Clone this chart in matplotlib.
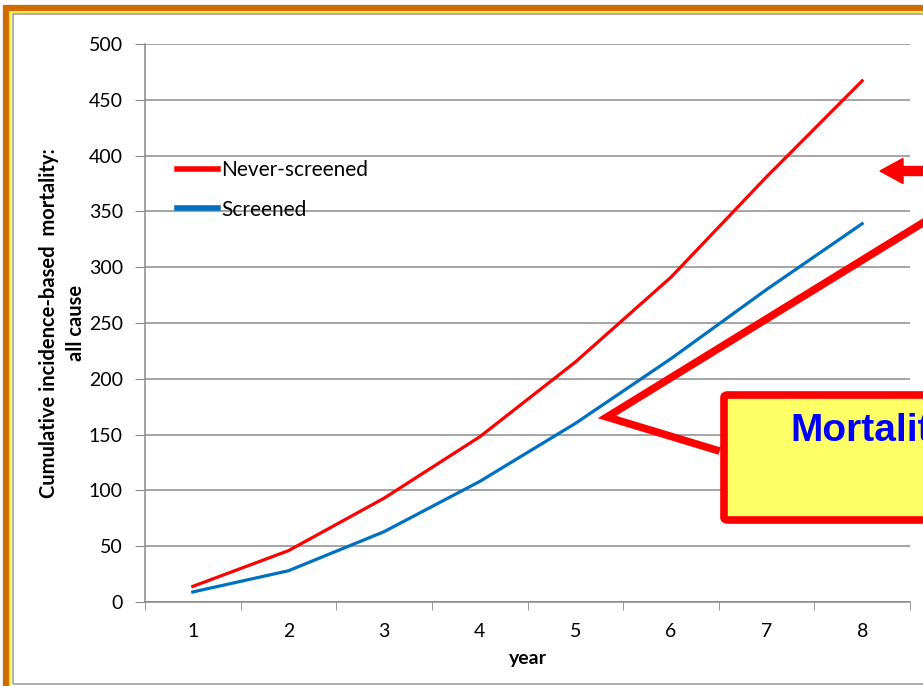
import numpy as np
import matplotlib
matplotlib.use('Agg')
import matplotlib.pyplot as plt
from matplotlib.patches import Rectangle, FancyBboxPatch, FancyArrow
from matplotlib.lines import Line2D

plt.rcParams['font.family'] = ['Lato', 'DejaVu Sans']

years = [1, 2, 3, 4, 5, 6, 7, 8]
never_screened = [14, 46, 93, 148, 215, 291, 381, 467]
screened = [9, 28, 63, 108, 160, 218, 280, 339]

W, H = 923, 686
fig = plt.figure(figsize=(W / 100, H / 100), dpi=100)


def px(x, y):
    # pixel position (from top-left) -> figure fraction
    return x / W, 1 - y / H


ax = fig.add_axes([145 / W, (H - 602) / H, (910 - 145) / W, (602 - 44) / H])
ax.plot(years, never_screened, color='#ff0000', lw=2.3, label='Never-screened', zorder=3)
ax.plot(years, screened, color='#0070c0', lw=2.3, label='Screened', zorder=3)

ax.set_xlim(0.5, 8.5)
ax.set_ylim(0, 500)
ax.set_yticks(np.arange(0, 501, 50))
ax.set_xticks(years)
ax.set_xticks(np.arange(0.5, 8.6, 1), minor=True)
ax.tick_params(axis='x', which='major', length=0, pad=15, labelsize=14)
ax.tick_params(axis='x', which='minor', length=6, color='#898989', direction='out')
ax.tick_params(axis='y', length=7, color='#898989', pad=9, labelsize=14)
ax.grid(axis='y', color='#8c8c8c', lw=1.1)
ax.set_axisbelow(True)
for s in ['top', 'right']:
    ax.spines[s].set_visible(False)
for s in ['left', 'bottom']:
    ax.spines[s].set_color('#898989')
    ax.spines[s].set_linewidth(1.1)

ax.set_xlabel('year', fontsize=14, fontweight='bold', labelpad=7)
ax.set_ylabel('Cumulative incidence-based  mortality:\nall cause', fontsize=14.5,
              fontweight='bold', labelpad=2, linespacing=1.4)

leg = ax.legend(loc='upper left', bbox_to_anchor=(0.017, 0.826), frameon=False,
                fontsize=15, handlelength=2.0, handletextpad=0.15, labelspacing=0.95)
for l in leg.get_lines():
    l.set_linewidth(4)

# page frame
fig.patches.append(Rectangle(px(6, 700), 2, (700 - 8) / H, transform=fig.transFigure,
                             fill=False, ec='#d06b00', lw=4.5, zorder=0))
fig.patches.append(Rectangle(px(10, 695), 2, (695 - 11.5) / H, transform=fig.transFigure,
                             fill=False, ec='#ffe84a', lw=1.5, zorder=0))
fig.patches.append(Rectangle(px(13, 684), 2, (684 - 14) / H, transform=fig.transFigure,
                             fill=False, ec='#a0a0a0', lw=1.2, zorder=0))

# callout pointer
xs, ys = zip(*[px(716, 450), px(607, 417), px(960, 200)])
fig.lines.append(Line2D(xs, ys, transform=fig.transFigure, color='#ff0000', lw=5.5,
                        solid_joinstyle='miter', zorder=5))

# callout box
bx, by = px(724, 520)
fig.patches.append(FancyBboxPatch((bx, by), 0.5, (520 - 395) / H, transform=fig.transFigure,
                                  boxstyle='round,pad=0,rounding_size=0.004',
                                  fc='#ffff66', ec='#ff0000', lw=5.5, zorder=6))
tx, ty = px(790, 431)
fig.text(tx, ty, 'Mortality', color='#0000ff', fontsize=28, fontweight='bold',
         family='Liberation Sans', va='center', ha='left', zorder=7)

# arrow at top right
ax0, ay0 = px(960, 171)
fig.patches.append(FancyArrow(ax0, ay0, (880 - 960) / W, 0, width=9 / H, head_width=25 / H,
                              head_length=23 / W, length_includes_head=True,
                              transform=fig.transFigure, color='#ff0000', zorder=5))

fig.savefig('out.png', dpi=100)
